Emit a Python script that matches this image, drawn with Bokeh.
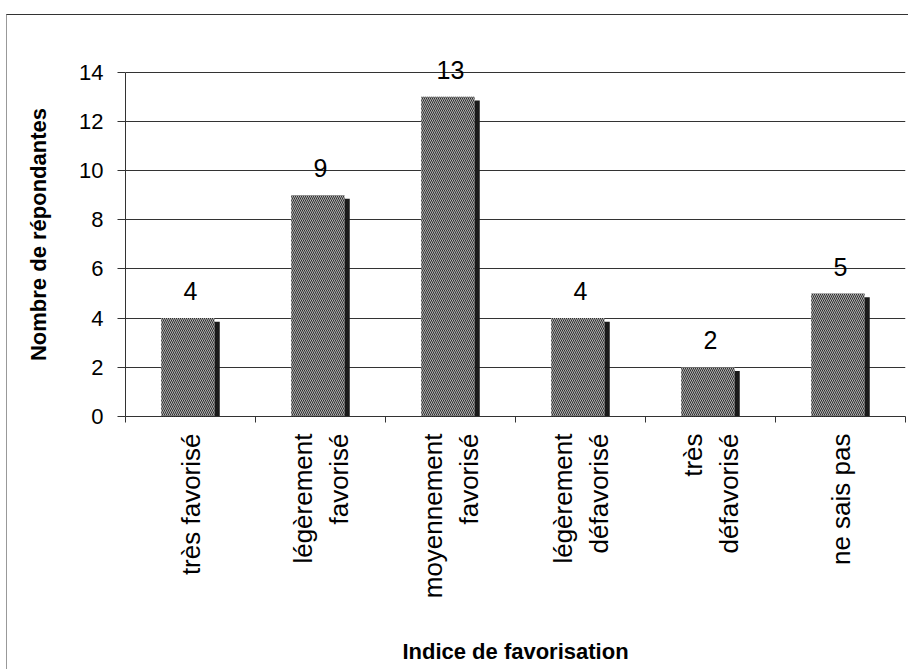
import math
from bokeh.plotting import figure
from bokeh.models import Range1d, FixedTicker, ColumnDataSource, LabelSet
from bokeh.core.properties import value
from bokeh.embed import file_html
from bokeh.resources import INLINE

categories = ["très favorisé", "légèrement\nfavorisé", "moyennement\nfavorisé",
              "légèrement\ndéfavorisé", "très\ndéfavorisé", "ne sais pas"]
values = [4, 9, 13, 4, 2, 5]
y_ticks = [0, 2, 4, 6, 8, 10, 12, 14]

n = len(categories)
centers = [i + 0.5 for i in range(n)]
src = ColumnDataSource(dict(
    x=centers,
    bar_x=[c - 0.02 for c in centers],
    sh_x=[c + 0.205 for c in centers],
    top=values,
    sh_top=[v - 0.15 for v in values],
    label=[str(v) for v in values],
))

FONT = "Liberation Sans"

p = figure(width=902, height=655, x_range=Range1d(0, n), y_range=Range1d(0, 14.8),
           output_backend="svg", toolbar_location=None,
           min_border_left=118, min_border_right=4, min_border_top=37, min_border_bottom=254)
p.styles = {"margin-left": "6px", "margin-top": "14px",
            "border-top": "1px solid #333", "border-left": "1px solid #999"}
p.outline_line_color = None
p.background_fill_color = "white"
p.border_fill_color = "white"

p.xgrid.visible = False
p.ygrid.ticker = FixedTicker(ticks=y_ticks)
p.ygrid.grid_line_color = "#333333"
p.ygrid.grid_line_width = 1

ya = p.yaxis[0]
ya.bounds = (0, 14)
ya.ticker = FixedTicker(ticks=y_ticks, minor_ticks=[])
ya.major_tick_in = 0
ya.major_tick_out = 8
ya.minor_tick_line_color = None
ya.axis_line_color = "#333333"
ya.major_tick_line_color = "#333333"
ya.major_label_text_font = FONT
ya.major_label_text_font_size = "22px"
ya.major_label_text_color = "black"
ya.major_label_standoff = 14
ya.axis_label = "Nombre de répondantes"
ya.axis_label_text_font = FONT
ya.axis_label_text_font_size = "22px"
ya.axis_label_text_font_style = "bold"
ya.axis_label_text_color = "black"
ya.axis_label_standoff = 25

xa = p.xaxis[0]
xa.ticker = FixedTicker(ticks=centers, minor_ticks=list(range(n + 1)))
xa.major_label_overrides = {c: cat for c, cat in zip(centers, categories)}
xa.major_label_orientation = math.pi / 2
xa.major_tick_line_color = None
xa.major_tick_in = 0
xa.major_tick_out = 6
xa.minor_tick_in = 0
xa.minor_tick_out = 6
xa.minor_tick_line_color = "#333333"
xa.axis_line_color = "#333333"
xa.major_label_text_font = FONT
xa.major_label_text_font_size = "26px"
xa.major_label_text_color = "black"
xa.major_label_standoff = 11
xa.axis_label = "Indice de favorisation"
xa.axis_label_text_font = FONT
xa.axis_label_text_font_size = "22px"
xa.axis_label_text_font_style = "bold"
xa.axis_label_text_color = "black"
xa.axis_label_standoff = 38

p.vbar(x="bar_x", width=0.41, top="top", bottom=0, source=src,
       fill_color="#b0b0b0", line_color=None,
       hatch_pattern="left_diagonal_line", hatch_color="#303030",
       hatch_scale=4, hatch_weight=1)
p.vbar(x="sh_x", width=0.04, top="sh_top", bottom=0, source=src,
       fill_color="#1a1a1a", line_color=None)

labels = LabelSet(x="x", y="top", text="label", source=src,
                  text_align="center", text_baseline="alphabetic", y_offset=18,
                  text_font=value(FONT), text_font_size=value("25px"),
                  text_color="black")
p.add_layout(labels)

open("out.html", "w").write(file_html(p, INLINE))
